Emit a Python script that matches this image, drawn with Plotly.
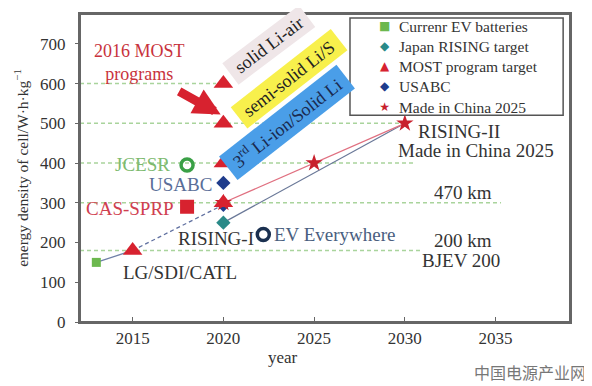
import plotly.graph_objects as go

# ---------------- data ----------------
current_years = [2013]
current_vals = [150]

rising_years = [2020, 2030]
rising_vals = [250, 500]

most_years = [2015, 2020, 2020, 2020, 2020]
most_vals = [180, 300, 400, 500, 600]

usabc_years = [2020, 2020]
usabc_vals = [350, 295]

mic_years = [2020, 2025, 2030]
mic_vals = [300, 400, 500]

cas_years = [2018]
cas_vals = [290]
jcesr_years = [2018]
jcesr_vals = [395]
evew_years = [2022.2]
evew_vals = [220]

# trend lines
early_years = [2013, 2015]
early_vals = [150, 180]
dash_years = [2015, 2020]
dash_vals = [180, 295]

# reference (dotted) levels: level, start year, end year
ref_levels = [600, 500, 400, 300, 180]
ref_start = [2012.1, 2012.1, 2012.1, 2012.1, 2012.1]
ref_end = [2019.6, 2030, 2030.5, 2035.3, 2031]

x_ticks = [2015, 2020, 2025, 2030, 2035]
y_ticks = [0, 100, 200, 300, 400, 500, 600, 700]

# legend entries (label, symbol glyph, colour)
legend_labels = ["Currenr EV batteries", "Japan RISING target", "MOST program target",
                 "USABC", "Made in China 2025"]
legend_glyphs = ["■", "◆", "▲", "◆", "★"]
legend_colors = ["#6cb84e", "#2a8a88", "#d7222f", "#1f3c8c", "#c8202c"]

SERIF = "Liberation Serif, Times New Roman, serif"
DARK = "#333333"
RED = "#d7222f"

fig = go.Figure()

# dotted reference lines
for lv, s, e in zip(ref_levels, ref_start, ref_end):
    fig.add_trace(go.Scatter(x=[s, e], y=[lv, lv], mode="lines",
                             line=dict(color="#a9d49c", width=1.5, dash="4px,3px"),
                             showlegend=False, hoverinfo="skip"))

# trend lines
fig.add_trace(go.Scatter(x=early_years, y=early_vals, mode="lines",
                         line=dict(color="#7080a8", width=1.3), showlegend=False))
fig.add_trace(go.Scatter(x=dash_years, y=dash_vals, mode="lines",
                         line=dict(color="#6070a0", width=1.3, dash="4px,3px"), showlegend=False))
fig.add_trace(go.Scatter(x=rising_years, y=rising_vals, mode="lines",
                         line=dict(color="#6a7898", width=1.3), showlegend=False))
fig.add_trace(go.Scatter(x=mic_years, y=mic_vals, mode="lines",
                         line=dict(color="#e07080", width=1.3), showlegend=False))

# markers
fig.add_trace(go.Scatter(x=current_years, y=current_vals, mode="markers", name=legend_labels[0],
                         marker=dict(symbol="square", size=9, color=legend_colors[0]), showlegend=False))
fig.add_trace(go.Scatter(x=rising_years[:1], y=rising_vals[:1], mode="markers", name=legend_labels[1],
                         marker=dict(symbol="diamond", size=11, color=legend_colors[1]), showlegend=False))
fig.add_trace(go.Scatter(x=usabc_years, y=usabc_vals, mode="markers", name=legend_labels[3],
                         marker=dict(symbol="diamond", size=11, color=legend_colors[3]), showlegend=False))
fig.add_trace(go.Scatter(x=mic_years, y=mic_vals, mode="markers", name=legend_labels[4],
                         marker=dict(symbol="star", size=13, color=legend_colors[4]), showlegend=False))
fig.add_trace(go.Scatter(x=most_years, y=most_vals, mode="markers", name=legend_labels[2],
                         marker=dict(symbol="triangle-up", size=17, color=legend_colors[2]), showlegend=False))
fig.add_trace(go.Scatter(x=cas_years, y=cas_vals, mode="markers", showlegend=False,
                         marker=dict(symbol="square", size=14, color=RED)))
fig.add_trace(go.Scatter(x=jcesr_years, y=jcesr_vals, mode="markers", showlegend=False,
                         marker=dict(symbol="circle-open", size=12, color="#3aa046",
                                     line=dict(width=3.5, color="#3aa046"))))
fig.add_trace(go.Scatter(x=evew_years, y=evew_vals, mode="markers", showlegend=False,
                         marker=dict(symbol="circle-open", size=12, color="#1a3050",
                                     line=dict(width=3.5, color="#1a3050"))))

def txt(x, y, s, color=DARK, size=19, xanchor="center", **kw):
    fig.add_annotation(x=x, y=y, text=s, showarrow=False, xanchor=xanchor, yanchor="middle",
                       font=dict(family=SERIF, size=size, color=color), **kw)

txt(2015.4, 652, "2016 MOST<br>programs", color="#c8323c", size=18)
txt(2017.15, 397, "JCESR", color="#7dba6f", xanchor="right")
txt(2019.5, 347, "USABC", color="#5a6e98", xanchor="right")
txt(2017.4, 285, "CAS-SPRP", color="#d04050", xanchor="right")
txt(2021.8, 210, "RISING-I", xanchor="right")
txt(2022.7, 220, "EV Everywhere", color="#4a6080", xanchor="left")
txt(2017.6, 125, "LG/SDI/CATL")
txt(2033.0, 480, "RISING-II")
txt(2033.9, 432, "Made in China 2025")
txt(2033.2, 325, "470 km")
txt(2033.2, 205, "200 km")
txt(2033.1, 155, "BJEV 200")

# rotated category labels
txt(2022.5, 698, " solid Li-air ", size=18, color="#222222", textangle=-37,
    bgcolor="#efe6e8", borderpad=3)
txt(2023.6, 612, " semi-solid Li/S ", size=18, color="#222222", textangle=-38,
    bgcolor="#f8f04c", borderpad=3)
txt(2023.5, 502, " 3<sup>rd</sup> Li-ion/Solid Li ", size=18, color="#1a2a50", textangle=-38,
    bgcolor="#4a9ee8", borderpad=3)

# red arrow
fig.add_annotation(x=2019.85, y=522, ax=-43, ay=-24, showarrow=True, text="",
                   arrowcolor=RED, arrowwidth=9, arrowhead=2, arrowsize=0.6)

# legend box (paper coordinates of the plot area)
fig.add_shape(type="rect", xref="paper", yref="paper", x0=0.551, x1=0.986, y0=0.671, y1=0.987,
              line=dict(color="#555555", width=1.5), fillcolor="white", layer="above")
LEG_SIZE = 15.5
glyph_text = "<br>".join(
    f"<span style='color:{c};font-family:DejaVu Sans;font-size:12px'>{g}</span>"
    for g, c in zip(legend_glyphs, legend_colors))
fig.add_annotation(x=0.621, y=0.829, xref="paper", yref="paper", text=glyph_text, showarrow=False,
                   xanchor="center", yanchor="middle", align="center",
                   font=dict(family=SERIF, size=LEG_SIZE, color=DARK))
fig.add_annotation(x=0.646, y=0.829, xref="paper", yref="paper", text="<br>".join(legend_labels),
                   showarrow=False, xanchor="left", yanchor="middle", align="left",
                   font=dict(family=SERIF, size=LEG_SIZE, color=DARK))

# plot frame
fig.add_shape(type="rect", xref="paper", yref="paper", x0=0, x1=1, y0=0, y1=1,
              line=dict(color="#666666", width=2), layer="above")

# x axis title and watermark
fig.add_annotation(x=0.414, y=-0.116, xref="paper", yref="paper", yanchor="middle", text="year",
                   showarrow=False, font=dict(family=SERIF, size=17, color=DARK))
fig.add_annotation(x=1.037, y=-0.161, xref="paper", yref="paper", xanchor="right", yanchor="middle",
                   text="中国电源产业网", showarrow=False,
                   font=dict(family="Noto Sans CJK SC", size=16, color="#777777"))

fig.update_layout(
    width=584, height=378,
    margin=dict(l=72, r=22, t=4, b=64),
    paper_bgcolor="white", plot_bgcolor="white",
    font=dict(family=SERIF, color=DARK),
    showlegend=False,
    xaxis=dict(range=[2012.1, 2039.1], tickvals=x_ticks, ticktext=[str(v) for v in x_ticks],
               showgrid=False, zeroline=False, showline=True, linecolor="#666666", linewidth=2,
               mirror=True, ticks="inside", ticklen=5, tickcolor="#666666",
               tickfont=dict(family=SERIF, size=17, color=DARK)),
    yaxis=dict(range=[0, 775], tickvals=y_ticks, ticktext=[str(v) for v in y_ticks],
               showgrid=False, zeroline=False, showline=True, linecolor="#666666", linewidth=2,
               mirror=True, ticks="outside", ticklen=3, tickcolor="#666666", ticklabelstandoff=6,
               tickfont=dict(family=SERIF, size=17, color=DARK),
               title=dict(text="energy density of cell/W·h·kg<sup>−1</sup>", standoff=8,
                          font=dict(family=SERIF, size=15.5, color=DARK))),
)

fig.write_html("out.html")
